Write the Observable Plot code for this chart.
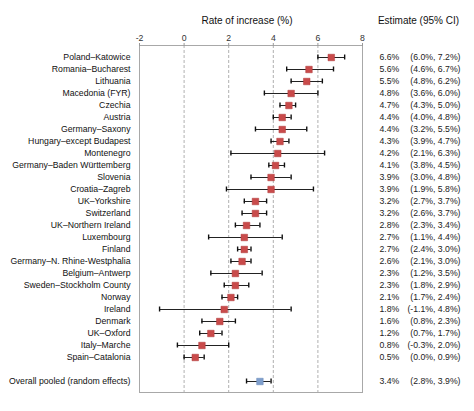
<!DOCTYPE html>
<html>
<head>
<meta charset="utf-8">
<script src="https://cdn.jsdelivr.net/npm/d3@7"></script>
<script src="https://cdn.jsdelivr.net/npm/@observablehq/plot@0.6"></script>
<style>
  html, body { margin: 0; padding: 0; background: #fff; }
  #chart svg { display: block; }
</style>
</head>
<body>
<div id="chart"></div>
<script>
const regions = [
  "Poland–Katowice", "Romania–Bucharest", "Lithuania", "Macedonia (FYR)", "Czechia",
  "Austria", "Germany–Saxony", "Hungary–except Budapest", "Montenegro",
  "Germany–Baden Württemberg", "Slovenia", "Croatia–Zagreb", "UK–Yorkshire",
  "Switzerland", "UK–Northern Ireland", "Luxembourg", "Finland",
  "Germany–N. Rhine-Westphalia", "Belgium–Antwerp", "Sweden–Stockholm County",
  "Norway", "Ireland", "Denmark", "UK–Oxford", "Italy–Marche", "Spain–Catalonia"
];
const estimate = [6.6, 5.6, 5.5, 4.8, 4.7, 4.4, 4.4, 4.3, 4.2, 4.1, 3.9, 3.9, 3.2, 3.2, 2.8, 2.7, 2.7, 2.6, 2.3, 2.3, 2.1, 1.8, 1.6, 1.2, 0.8, 0.5];
const lower    = [6.0, 4.6, 4.8, 3.6, 4.3, 4.0, 3.2, 3.9, 2.1, 3.8, 3.0, 1.9, 2.7, 2.6, 2.3, 1.1, 2.4, 2.1, 1.2, 1.8, 1.7, -1.1, 0.8, 0.7, -0.3, 0.0];
const upper    = [7.2, 6.7, 6.2, 6.0, 5.0, 4.8, 5.5, 4.7, 6.3, 4.5, 4.8, 5.8, 3.7, 3.7, 3.4, 4.4, 3.0, 3.0, 3.5, 2.9, 2.4, 4.8, 2.3, 1.7, 2.0, 0.9];

const pooledLabel = "Overall pooled (random effects)";
const pooledEstimate = 3.4;
const pooledLower = 2.8;
const pooledUpper = 3.9;

const xTicks = [-2, 0, 2, 4, 6, 8];
const gridValues = [0, 2, 4, 6];

const spacer = " ";
const fmt = v => v.toFixed(1) + "%";

const rows = regions.map((r, i) => ({label: r, est: estimate[i], lo: lower[i], hi: upper[i], pooled: false}));
rows.push({label: pooledLabel, est: pooledEstimate, lo: pooledLower, hi: pooledUpper, pooled: true});
const yDomain = [...regions, spacer, pooledLabel];

const font = "'Liberation Sans', Arial, Helvetica, sans-serif";

const chart = Plot.plot({
  width: 474,
  height: 411,
  marginLeft: 139,
  marginRight: 112,
  marginTop: 45,
  marginBottom: 19,
  style: {fontFamily: font, fontSize: "8.7px", color: "#222", background: "#fff"},
  x: {domain: [-2, 8], axis: null},
  y: {domain: yDomain, padding: 0, axis: null},
  marks: [
    Plot.ruleX(gridValues, {stroke: "#b0b0b0", strokeDasharray: "3,2"}),
    Plot.frame({stroke: "#a8a8a8"}),
    Plot.axisX(xTicks, {anchor: "top", tickSize: 3, tickPadding: 2, stroke: "#999", fill: "#333", fontSize: 8.7, tickFormat: d => String(d)}),
    Plot.axisY(yDomain, {anchor: "left", tickSize: 0, tickPadding: 9, fill: "#111", fontSize: 8.7, label: null}),
    Plot.ruleY(rows, {y: "label", x1: "lo", x2: "hi", stroke: "#222", strokeWidth: 1}),
    Plot.tickX(rows, {y: "label", x: "lo", stroke: "#111", strokeWidth: 1.4, insetTop: 3.5, insetBottom: 3.5}),
    Plot.tickX(rows, {y: "label", x: "hi", stroke: "#111", strokeWidth: 1.4, insetTop: 3.5, insetBottom: 3.5}),
    Plot.dot(rows, {y: "label", x: "est", symbol: "square", r: 3.7,
      fill: d => d.pooled ? "#7f9fcc" : "#c94b4b",
      stroke: d => d.pooled ? "#6a8abb" : "#b03a3a", strokeWidth: 0.5}),
    Plot.text(rows, {y: "label", frameAnchor: "right", dx: 17, textAnchor: "start",
      text: d => fmt(d.est), fill: "#222", fontSize: 8.7}),
    Plot.text(rows, {y: "label", frameAnchor: "right", dx: 98, textAnchor: "end",
      text: d => "(" + fmt(d.lo) + ", " + fmt(d.hi) + ")", fill: "#222", fontSize: 8.7}),
    Plot.text(["Rate of increase (%)"], {frameAnchor: "top", dx: -4, dy: -29, fontSize: 10, fill: "#111"}),
    Plot.text(["Estimate (95% CI)"], {frameAnchor: "top-right", dx: 56, dy: -29, textAnchor: "middle", fontSize: 10, fill: "#111"})
  ]
});
document.getElementById("chart").appendChild(chart);
</script>
</body>
</html>
